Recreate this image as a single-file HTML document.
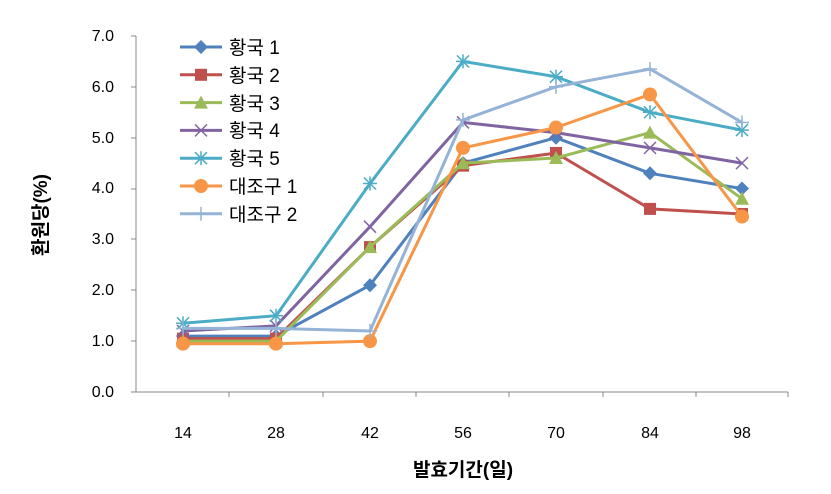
<!DOCTYPE html>
<html><head><meta charset="utf-8"><style>
html,body{margin:0;padding:0;background:#fff;}
svg{display:block;font-family:"Liberation Sans","Noto Sans CJK KR",sans-serif;}
</style></head><body>
<svg id="c" width="831" height="494" viewBox="0 0 831 494">
<g font-size="16" fill="#000" text-anchor="end">
<text x="114" y="397">0.0</text><text x="114" y="346">1.0</text><text x="114" y="295">2.0</text>
<text x="114" y="244">3.0</text><text x="114" y="193">4.0</text><text x="114" y="143">5.0</text>
<text x="114" y="92">6.0</text><text x="114" y="41">7.0</text>
</g>
<g font-size="16" text-anchor="middle">
<text x="183" y="438">14</text><text x="276" y="438">28</text><text x="370" y="438">42</text>
<text x="463" y="438">56</text><text x="556" y="438">70</text><text x="650" y="438">84</text><text x="742" y="438">98</text>
</g>
<text x="463" y="476" font-size="19" font-weight="bold" text-anchor="middle">발효기간(일)</text>
<text transform="translate(47,215) rotate(-90)" font-size="19" font-weight="bold" text-anchor="middle">환원당(%)</text>
<line x1="136" y1="36" x2="136" y2="392" stroke="#888"/>
<line x1="136" y1="392" x2="788" y2="392" stroke="#888"/>
<g stroke="#888">
<line x1="131" y1="392" x2="136" y2="392"/><line x1="131" y1="341" x2="136" y2="341"/><line x1="131" y1="290" x2="136" y2="290"/><line x1="131" y1="239" x2="136" y2="239"/><line x1="131" y1="189" x2="136" y2="189"/><line x1="131" y1="138" x2="136" y2="138"/><line x1="131" y1="87" x2="136" y2="87"/><line x1="131" y1="36" x2="136" y2="36"/>
<line x1="229" y1="392" x2="229" y2="397"/><line x1="323" y1="392" x2="323" y2="397"/><line x1="416" y1="392" x2="416" y2="397"/><line x1="509" y1="392" x2="509" y2="397"/><line x1="603" y1="392" x2="603" y2="397"/><line x1="696" y1="392" x2="696" y2="397"/><line x1="788" y1="392" x2="788" y2="397"/>
</g>
<g id="series"></g>
<g id="leg" font-size="19">
<text x="229" y="54">황국 1</text><text x="229" y="82">황국 2</text><text x="229" y="110">황국 3</text>
<text x="229" y="137">황국 4</text><text x="229" y="165">황국 5</text><text x="229" y="193">대조구 1</text><text x="229" y="221">대조구 2</text>
</g>
</svg>
<script>
var xs=[183,276,370,463,556,650,742];
function Y(v){return 392-v*50.86;}
var S=[
["#4F81BD","d",[1.1,1.1,2.1,4.5,5.0,4.3,4.0]],
["#C0504D","s",[1.05,1.05,2.85,4.45,4.7,3.6,3.5]],
["#9BBB59","t",[1.0,1.0,2.85,4.5,4.6,5.1,3.8]],
["#8064A2","x",[1.2,1.3,3.25,5.3,5.1,4.8,4.5]],
["#4BACC6","*",[1.35,1.5,4.1,6.5,6.2,5.5,5.15]],
["#F79646","o",[0.95,0.95,1.0,4.8,5.2,5.85,3.45]],
["#95B3D7","+",[1.25,1.25,1.2,5.35,6.0,6.35,5.3]]];
function mk(t,c,x,y){
 if(t=="d")return '<polygon points="'+x+','+(y-7)+' '+(x+7)+','+y+' '+x+','+(y+7)+' '+(x-7)+','+y+'" fill="'+c+'"/>';
 if(t=="s")return '<rect x="'+(x-6)+'" y="'+(y-6)+'" width="12" height="12" fill="'+c+'"/>';
 if(t=="t")return '<polygon points="'+x+','+(y-7)+' '+(x+7)+','+(y+6)+' '+(x-7)+','+(y+6)+'" fill="'+c+'"/>';
 if(t=="o")return '<circle cx="'+x+'" cy="'+y+'" r="7" fill="'+c+'"/>';
 var s='<g stroke="'+c+'" stroke-width="1.5">';
 if(t=="x"||t=="*")s+='<line x1="'+(x-6)+'" y1="'+(y-6)+'" x2="'+(x+6)+'" y2="'+(y+6)+'"/><line x1="'+(x-6)+'" y1="'+(y+6)+'" x2="'+(x+6)+'" y2="'+(y-6)+'"/>';
 if(t=="+"||t=="*")s+='<line x1="'+(x-7)+'" y1="'+y+'" x2="'+(x+7)+'" y2="'+y+'"/><line x1="'+x+'" y1="'+(y-7)+'" x2="'+x+'" y2="'+(y+7)+'"/>';
 return s+'</g>';
}
var h='';
S.forEach(function(s,i){
 var p=s[2].map(function(v,j){return xs[j]+','+Y(v).toFixed(1)}).join(' ');
 h+='<polyline points="'+p+'" fill="none" stroke="'+s[0]+'" stroke-width="3"/>';
 s[2].forEach(function(v,j){h+=mk(s[1],s[0],xs[j],Y(v));});
 var ly=47+27.8*i;
 h+='<line x1="180" y1="'+ly+'" x2="222" y2="'+ly+'" stroke="'+s[0]+'" stroke-width="3"/>'+mk(s[1],s[0],201,ly);
});
document.getElementById('series').innerHTML=h;
</script>
</body></html>
